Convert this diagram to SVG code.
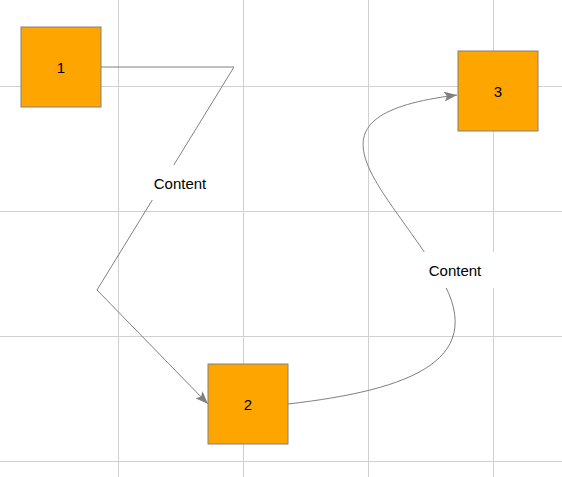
<svg xmlns="http://www.w3.org/2000/svg" width="562" height="477" viewBox="0 0 562 477">
  <style>
    .grid line { stroke: #d0d0d0; stroke-width: 1; }
    .node rect { fill: #ffa500; stroke: #808080; stroke-width: 1; }
    .node text, .label text { font-family: "Liberation Sans", Arial, sans-serif; font-size: 15px; fill: #000; text-anchor: middle; dominant-baseline: central; }
    .edge { fill: none; stroke: #808080; stroke-width: 1; }
    .label rect { fill: #fff; stroke: none; }
  </style>
  <defs>
    <marker id="arrow" markerUnits="userSpaceOnUse" markerWidth="13" markerHeight="10" refX="13" refY="5" orient="auto">
      <path d="M0,0 L13,5 L0,10 L3,5 Z" fill="#808080"/>
    </marker>
  </defs>
  <rect x="0" y="0" width="562" height="477" fill="#ffffff"/>
  <g class="grid">
    <line x1="118.5" y1="0" x2="118.5" y2="477"/>
    <line x1="243.5" y1="0" x2="243.5" y2="477"/>
    <line x1="368.5" y1="0" x2="368.5" y2="477"/>
    <line x1="493.5" y1="0" x2="493.5" y2="477"/>
    <line x1="0" y1="86.5" x2="562" y2="86.5"/>
    <line x1="0" y1="211.5" x2="562" y2="211.5"/>
    <line x1="0" y1="336.5" x2="562" y2="336.5"/>
    <line x1="0" y1="461.5" x2="562" y2="461.5"/>
  </g>
  <g id="connectors">
    <path class="edge" d="M101,67 L234,67 L97,290 L208,404" marker-end="url(#arrow)"/>
    <path class="edge" d="M288,404 C410,390 495,360 436,270 C380,180 295,115 457,95" marker-end="url(#arrow)"/>
    <g class="label">
      <rect x="140" y="165" width="80" height="35"/>
      <text x="180" y="183">Content</text>
    </g>
    <g class="label">
      <rect x="415" y="252" width="81" height="36"/>
      <text x="455" y="270">Content</text>
    </g>
  </g>
  <g id="node1" class="node">
    <rect x="21" y="27" width="80" height="80"/>
    <text x="61" y="67">1</text>
  </g>
  <g id="node2" class="node">
    <rect x="208" y="364" width="80" height="80"/>
    <text x="248" y="404">2</text>
  </g>
  <g id="node3" class="node">
    <rect x="458" y="51" width="80" height="80"/>
    <text x="498" y="91">3</text>
  </g>
</svg>
